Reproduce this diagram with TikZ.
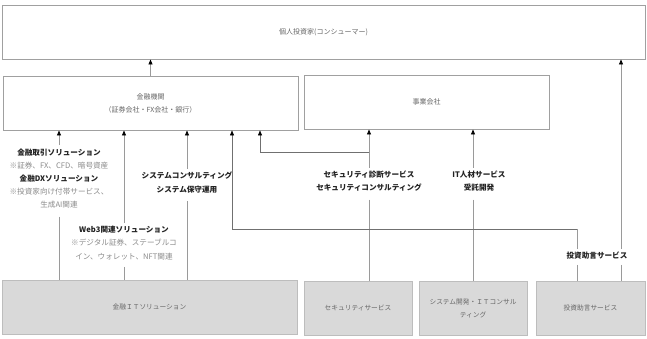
\documentclass[tikz,border=0pt]{standalone}
\usepackage{fontspec}
\setmainfont{Noto Sans CJK JP}
\usetikzlibrary{arrows.meta}
\definecolor{boxline}{HTML}{A0A0A0}
\definecolor{gboxfill}{HTML}{D9D9D9}
\definecolor{gboxline}{HTML}{BDBDBD}
\definecolor{boxtext}{HTML}{666666}
\definecolor{lbltext}{HTML}{222222}
\definecolor{notetext}{HTML}{8A8A8A}
\definecolor{conn}{HTML}{9A9A9A}
\definecolor{elbconn}{HTML}{707070}
\tikzset{
  wbox/.style={draw=boxline, line width=0.9pt, fill=white, inner sep=0pt, text=boxtext,
    font=\fontsize{7}{13}\selectfont, align=center},
  gbox/.style={draw=gboxline, line width=0.9pt, fill=gboxfill, inner sep=0pt, text=boxtext,
    font=\fontsize{6.7}{13}\selectfont, align=center},
  lbl/.style={inner xsep=1pt, inner ysep=3pt, text=lbltext, align=center,
    font=\fontsize{7.6}{13.2}\selectfont\bfseries},
  ln/.style={draw=conn, line width=0.8pt},
  elb/.style={draw=elbconn, line width=0.6pt},
  tip/.style={-{Triangle[length=5pt,width=4pt,color=black]}},
}
\newcommand{\nt}[1]{{\mdseries\color{notetext}#1}}
\begin{document}
\begin{tikzpicture}[x=1pt,y=-1pt]
\useasboundingbox (0,0) rectangle (647,338);
% boxes
\node[wbox, minimum width=643pt, minimum height=54pt] (top) at (323.5,32) {個人投資家(コンシューマー)};
\node[wbox, minimum width=295pt, minimum height=54pt] (fin) at (150.5,103) {金融機関\\（証券会社・FX会社・銀行）};
\node[wbox, minimum width=245pt, minimum height=54pt] (biz) at (426.5,102) {事業会社};
\node[gbox, minimum width=295pt, minimum height=54pt] (bIT) at (149.5,307) {金融ＩＴソリューション};
\node[gbox, minimum width=108pt, minimum height=54pt] (bSec) at (358,308) {セキュリティサービス};
\node[gbox, minimum width=108pt, minimum height=54pt] (bDev) at (473,308) {システム開発・ＩＴコンサル\\ティング};
\node[gbox, minimum width=109pt, minimum height=54pt] (bAdv) at (590.5,308) {投資助言サービス};
% labels
\node[lbl] (l1) at (59,178.5) {金融取引ソリューション\\\nt{※証券、FX、CFD、暗号資産}\\金融DXソリューション\\\nt{※投資家向け付帯サービス、}\\\nt{生成AI関連}};
\node[lbl] (l2) at (124,243) {Web3関連ソリューション\\\nt{※デジタル証券、ステーブルコ}\\\nt{イン、ウォレット、NFT関連}};
\node[lbl] (l3) at (187,182.5) {システムコンサルティング\\システム保守運用};
\node[lbl] (l4) at (369,181) {セキュリティ診断サービス\\セキュリティコンサルティング};
\node[lbl] (l5) at (479,181) {IT人材サービス\\受託開発};
\node[lbl] (l6) at (597,256) {投資助言サービス};
\coordinate (c152a) at (369,152);
\coordinate (c152b) at (260,152);
\coordinate (c229a) at (577,229);
\coordinate (c229b) at (232,229);
\coordinate (c621) at (621,0);
% connectors
\draw[ln, tip] (fin.north) -- (fin.north |- top.south);
\draw[ln, shorten <=5pt] (l1.south) -- (l1.south |- bIT.north);
\draw[ln, tip] (l1.north) -- (l1.north |- fin.south);
\draw[ln, shorten <=4pt] (l2.south) -- (l2.south |- bIT.north);
\draw[ln, tip] (l2.north) -- (l2.north |- fin.south);
\draw[ln, shorten <=5pt] (l3.south) -- (l3.south |- bIT.north);
\draw[ln, tip] (l3.north) -- (l3.north |- fin.south);
\draw[ln, shorten <=5pt] (l4.south) -- (l4.south |- bSec.north);
\draw[ln, tip] (l4.north) -- (l4.north |- biz.south);
\draw[elb, tip] (c152a) -- (c152b) -- (c152b |- fin.south);
\draw[ln, shorten <=5pt] (bDev.north |- l5.south) -- (bDev.north);
\draw[ln, tip] (bDev.north |- l5.north) -- (bDev.north |- biz.south);
\draw[ln, shorten <=2pt] (c229a |- l6.south) -- (c229a |- bAdv.north);
\draw[ln] (c229a |- l6.north) -- (c229a);
\draw[elb, tip] (c229a) -- (c229b) -- (c229b |- fin.south);
\draw[ln, shorten <=2pt] (c621 |- l6.south) -- (c621 |- bAdv.north);
\draw[ln, tip] (c621 |- l6.north) -- (c621 |- top.south);
\end{tikzpicture}
\end{document}
